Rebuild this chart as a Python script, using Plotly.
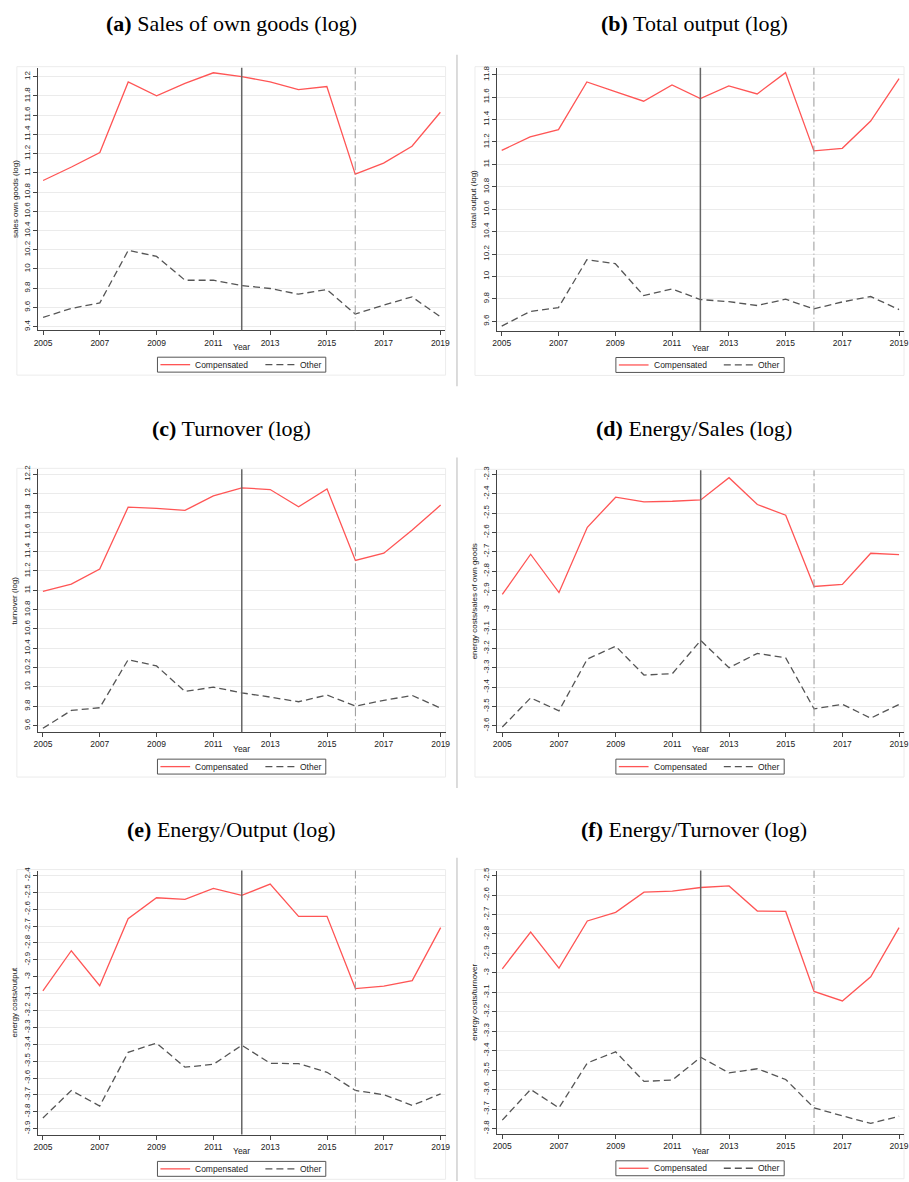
import plotly.graph_objects as go

W, H = 909, 1182

years = list(range(2005, 2020))

# Panel (a): sales of own goods (log)
sales_comp = [10.92, 11.06, 11.21, 11.945, 11.80, 11.93, 12.04, 12.00, 11.945, 11.865, 11.897, 10.986, 11.10, 11.276, 11.63]
sales_other = [9.497, 9.59, 9.648, 10.193, 10.131, 9.883, 9.883, 9.828, 9.797, 9.738, 9.786, 9.531, 9.624, 9.71, 9.503]
sales_ticks = [9.4, 9.6, 9.8, 10, 10.2, 10.4, 10.6, 10.8, 11, 11.2, 11.4, 11.6, 11.8, 12]

# Panel (b): total output (log)
output_comp = [11.125, 11.244, 11.309, 11.735, 11.649, 11.563, 11.708, 11.587, 11.699, 11.628, 11.818, 11.12, 11.143, 11.386, 11.764]
output_other = [9.557, 9.688, 9.723, 10.149, 10.114, 9.830, 9.889, 9.794, 9.776, 9.741, 9.797, 9.711, 9.773, 9.821, 9.705]
output_ticks = [9.6, 9.8, 10, 10.2, 10.4, 10.6, 10.8, 11, 11.2, 11.4, 11.6, 11.8]

# Panel (c): turnover (log)
turnover_comp = [10.989, 11.064, 11.219, 11.860, 11.847, 11.826, 11.977, 12.059, 12.042, 11.864, 12.049, 11.308, 11.384, 11.624, 11.881]
turnover_other = [9.572, 9.757, 9.785, 10.282, 10.217, 9.953, 9.998, 9.939, 9.895, 9.847, 9.916, 9.802, 9.861, 9.912, 9.781]
turnover_ticks = [9.6, 9.8, 10, 10.2, 10.4, 10.6, 10.8, 11, 11.2, 11.4, 11.6, 11.8, 12, 12.2]

# Panel (d): energy costs / sales of own goods (log)
es_comp = [-2.921, -2.713, -2.911, -2.574, -2.418, -2.442, -2.439, -2.432, -2.317, -2.456, -2.511, -2.880, -2.869, -2.708, -2.715]
es_other = [-3.607, -3.456, -3.523, -3.255, -3.189, -3.338, -3.331, -3.159, -3.300, -3.226, -3.249, -3.513, -3.489, -3.561, -3.490]
es_ticks = [-3.6, -3.5, -3.4, -3.3, -3.2, -3.1, -3, -2.9, -2.8, -2.7, -2.6, -2.5, -2.4, -2.3]

# Panel (e): energy costs / output (log)
eo_comp = [-3.084, -2.846, -3.053, -2.656, -2.532, -2.542, -2.477, -2.518, -2.451, -2.642, -2.642, -3.070, -3.055, -3.023, -2.709]
eo_other = [-3.837, -3.674, -3.766, -3.448, -3.393, -3.536, -3.519, -3.406, -3.513, -3.515, -3.566, -3.674, -3.699, -3.762, -3.694]
eo_ticks = [-3.9, -3.8, -3.7, -3.6, -3.5, -3.4, -3.3, -3.2, -3.1, -3, -2.9, -2.8, -2.7, -2.6, -2.5, -2.4]

# Panel (f): energy costs / turnover (log)
et_comp = [-2.979, -2.790, -2.975, -2.733, -2.689, -2.585, -2.580, -2.561, -2.553, -2.682, -2.684, -3.095, -3.144, -3.020, -2.767]
et_other = [-3.757, -3.599, -3.694, -3.463, -3.406, -3.558, -3.551, -3.434, -3.514, -3.493, -3.548, -3.694, -3.735, -3.774, -3.737]
et_ticks = [-3.8, -3.7, -3.6, -3.5, -3.4, -3.3, -3.2, -3.1, -3, -2.9, -2.8, -2.7, -2.6, -2.5]

year_ticks = [2005, 2007, 2009, 2011, 2013, 2015, 2017, 2019]
policy_year = 2012
reform_year = 2016
series_names = ["Compensated", "Other"]

panels = [
    dict(tag="(a)", title="Sales of own goods (log)", ylab="sales own goods (log)",
         comp=sales_comp, other=sales_other, ticks=sales_ticks,
         px=(34.5, 445.7), py=(63, 327.0), yr=(9.362, 12.093), ty=19),
    dict(tag="(b)", title="Total output (log)", ylab="total output (log)",
         comp=output_comp, other=output_other, ticks=output_ticks,
         px=(497.7, 909), py=(63, 327.3), yr=(9.517, 11.862), ty=19),
    dict(tag="(c)", title="Turnover (log)", ylab="turnover (log)",
         comp=turnover_comp, other=turnover_other, ticks=turnover_ticks,
         px=(34.3, 446), py=(466.7, 731), yr=(9.531, 12.251), ty=426),
    dict(tag="(d)", title="Energy/Sales (log)", ylab="energy costs/sales of own goods",
         comp=es_comp, other=es_other, ticks=es_ticks,
         px=(498.3, 909), py=(467.7, 731), yr=(-3.634, -2.279), ty=426),
    dict(tag="(e)", title="Energy/Output (log)", ylab="energy costs/output",
         comp=eo_comp, other=eo_other, ticks=eo_ticks,
         px=(34.3, 446), py=(870, 1135.3), yr=(-3.935, -2.371), ty=829),
    dict(tag="(f)", title="Energy/Turnover (log)", ylab="energy costs/turnover",
         comp=et_comp, other=et_other, ticks=et_ticks,
         px=(498.3, 909), py=(870, 1134.7), yr=(-3.828, -2.474), ty=829),
]

RED = "#ff5555"
DARK = "#555555"
OTHER_DASH = "7px,4px"
SANS = "Liberation Sans, Arial, sans-serif"
SERIF = "Liberation Serif, Times New Roman, serif"

fig = go.Figure()
layout = dict(
    width=W, height=H, margin=dict(l=0, r=0, t=0, b=0),
    paper_bgcolor="white", plot_bgcolor="white", showlegend=False,
)
shapes = []
annotations = []


def fx(x):
    return x / W


def fy(y):
    return 1 - y / H


for i, p in enumerate(panels, start=1):
    sfx = "" if i == 1 else str(i)
    xa, ya = "x" + sfx, "y" + sfx
    left = p["px"][0] < 300
    gx0 = 13 if left else 475.7
    gx1 = 446 if left else 909
    top = p["py"][0]
    bottom = p["py"][1]

    # faint graph-region frame
    shapes.append(dict(type="rect", xref="paper", yref="paper",
                       x0=fx(gx0), x1=fx(gx1), y0=fy(bottom + 45), y1=fy(top - 1),
                       line=dict(color="#ececec", width=1), fillcolor="rgba(0,0,0,0)", layer="below"))
    if not left:
        shapes.append(dict(type="line", xref="paper", yref="paper",
                           x0=fx(457.5), x1=fx(457.5), y0=fy(min(bottom + 56, H)), y1=fy(top - 13),
                           line=dict(color="#c4c4c4", width=1.2)))

    fig.add_trace(go.Scatter(x=years, y=p["comp"], mode="lines", name=series_names[0],
                             line=dict(color=RED, width=1.3), xaxis=xa, yaxis=ya))
    fig.add_trace(go.Scatter(x=years, y=p["other"], mode="lines", name=series_names[1],
                             line=dict(color=DARK, width=1.3, dash=OTHER_DASH),
                             xaxis=xa, yaxis=ya))

    layout["xaxis" + sfx] = dict(
        domain=[fx(p["px"][0]), fx(p["px"][1])], anchor=ya,
        range=[2004.826, 2019.174], tickvals=year_ticks,
        ticktext=[str(v) for v in year_ticks], ticklabeloverflow="allow",
        showgrid=False, zeroline=False, showline=True, linecolor="#444", linewidth=1,
        ticks="outside", ticklen=4, tickcolor="#444", tickwidth=1,
        tickfont=dict(family=SANS, size=8.5, color="#222"),
    )
    layout["yaxis" + sfx] = dict(
        domain=[fy(bottom), fy(top)], anchor=xa,
        range=list(p["yr"]), tickvals=p["ticks"],
        ticktext=[f"{v:g}" for v in p["ticks"]], tickangle=-90,
        showgrid=True, gridcolor="#ebebeb", gridwidth=1.2, zeroline=False,
        showline=True, linecolor="#444", linewidth=1,
        ticks="outside", ticklen=4, tickcolor="#444", tickwidth=1,
        tickfont=dict(family=SANS, size=8, color="#222"),
        title=dict(text=p["ylab"], font=dict(family=SANS, size=8, color="#222"), standoff=3),
    )

    # reference years
    shapes.append(dict(type="line", xref=xa, yref=ya + " domain", x0=policy_year, x1=policy_year,
                       y0=0, y1=1, line=dict(color="#666666", width=1.5)))
    shapes.append(dict(type="line", xref=xa, yref=ya + " domain", x0=reform_year, x1=reform_year,
                       y0=0, y1=1, line=dict(color="#999999", width=1, dash="9px,3px,1px,3px")))

    # x-axis title
    xc = 240 if left else 703.5
    annotations.append(dict(xref="paper", yref="paper", x=fx(xc), y=fy(bottom + 17),
                            text="Year", showarrow=False,
                            font=dict(family=SANS, size=8.5, color="#222"),
                            xanchor="center", yanchor="middle"))

    # panel heading
    tcx = 230 if left else 697
    annotations.append(dict(xref="paper", yref="paper", x=fx(tcx), y=fy(p["ty"]),
                            text=f"<b>{p['tag']}</b> {p['title']}", showarrow=False,
                            font=dict(family=SERIF, size=22, color="black"),
                            xanchor="center", yanchor="middle"))

    # legend box with keys
    lcx = 240 if left else 703
    ly0, ly1 = bottom + 27, bottom + 42
    lym = (ly0 + ly1) / 2
    shapes.append(dict(type="rect", xref="paper", yref="paper",
                       x0=fx(lcx - 85), x1=fx(lcx + 85), y0=fy(ly1), y1=fy(ly0),
                       line=dict(color="#555555", width=1), fillcolor="white"))
    shapes.append(dict(type="line", xref="paper", yref="paper",
                       x0=fx(lcx - 82), x1=fx(lcx - 52), y0=fy(lym), y1=fy(lym),
                       line=dict(color=RED, width=1.3)))
    shapes.append(dict(type="line", xref="paper", yref="paper",
                       x0=fx(lcx + 24), x1=fx(lcx + 55), y0=fy(lym), y1=fy(lym),
                       line=dict(color=DARK, width=1.3, dash=OTHER_DASH)))
    annotations.append(dict(xref="paper", yref="paper", x=fx(lcx - 49), y=fy(lym),
                            text=series_names[0], showarrow=False,
                            font=dict(family=SANS, size=8.5, color="#222"),
                            xanchor="left", yanchor="middle"))
    annotations.append(dict(xref="paper", yref="paper", x=fx(lcx + 57), y=fy(lym),
                            text=series_names[1], showarrow=False,
                            font=dict(family=SANS, size=8.5, color="#222"),
                            xanchor="left", yanchor="middle"))

layout["shapes"] = shapes
layout["annotations"] = annotations
fig.update_layout(**layout)
fig.write_html("out.html")
